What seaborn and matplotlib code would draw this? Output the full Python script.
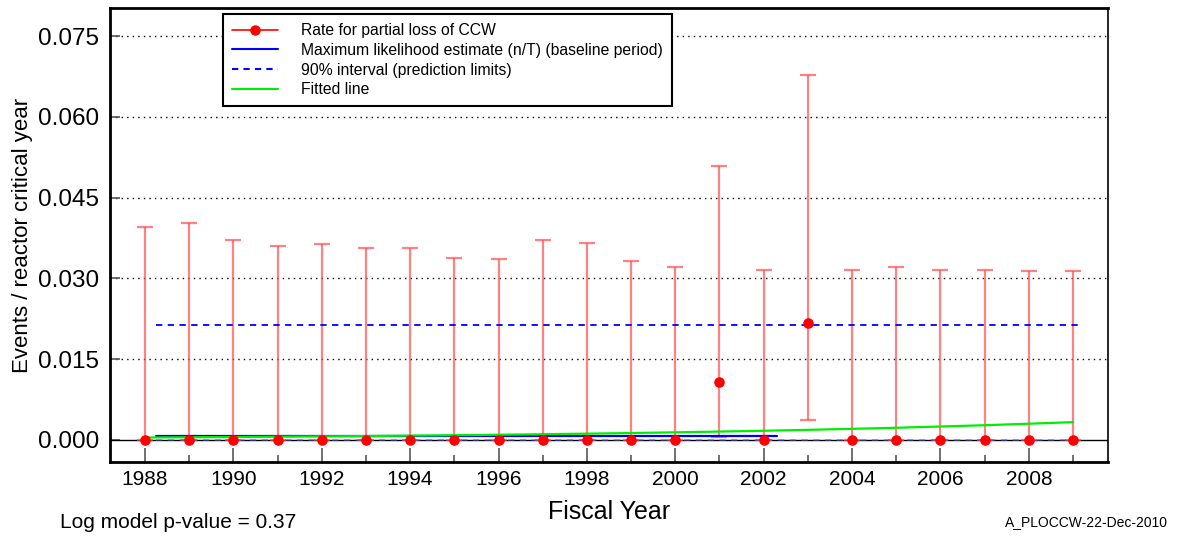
"""
Rate for partial loss of CCW by fiscal year, with prediction limits and
fitted log-model trend line.

Output:
    ``out.png``
"""

import matplotlib.pyplot as plt
import pandas as pd
import seaborn as sns

# Data
years = list(range(1988, 2010))
rate = [0.0, 0.0, 0.0, 0.0, 0.0, 0.0, 0.0, 0.0, 0.0, 0.0, 0.0,
        0.0, 0.0, 0.0108, 0.0, 0.0217, 0.0, 0.0, 0.0, 0.0, 0.0, 0.0]
upper = [0.0395, 0.0403, 0.0371, 0.0360, 0.0364, 0.0356, 0.0356, 0.0338,
         0.0336, 0.0371, 0.0366, 0.0332, 0.0321, 0.0509, 0.0316, 0.0678,
         0.0316, 0.0321, 0.0316, 0.0316, 0.0314, 0.0314]
lower = [0.0, 0.0, 0.0, 0.0, 0.0, 0.0, 0.0, 0.0, 0.0, 0.0, 0.0,
         0.0, 0.0, 0.0005, 0.0, 0.0037, 0.0, 0.0, 0.0, 0.0, 0.0, 0.0]
fitted = [0.00045, 0.00050, 0.00055, 0.00060, 0.00066, 0.00072, 0.00080,
          0.00088, 0.00096, 0.00106, 0.00116, 0.00128, 0.00141, 0.00155,
          0.00170, 0.00187, 0.00206, 0.00226, 0.00249, 0.00273, 0.00301,
          0.00330]

mle_span = [1988.25, 2002.3]
mle_value = 0.00074
interval_span = [1988.25, 2009.2]
interval_upper = 0.0213
interval_lower = 0.0

y_ticks = [0.0, 0.015, 0.030, 0.045, 0.060, 0.075]
x_major = list(range(1988, 2010, 2))
x_minor = list(range(1989, 2010, 2))

df = pd.DataFrame({"year": years, "rate": rate, "upper": upper,
                   "lower": lower, "fitted": fitted})

sns.set_style("white", {"xtick.bottom": True, "ytick.left": True})
plt.rcParams["font.family"] = ["Liberation Sans", "DejaVu Sans"]
plt.rcParams["text.color"] = "k"
plt.rcParams["axes.labelcolor"] = "k"
plt.rcParams["xtick.color"] = "k"
plt.rcParams["ytick.color"] = "k"
plt.rcParams["xtick.major.size"] = 10
plt.rcParams["xtick.minor.size"] = 5
plt.rcParams["ytick.major.size"] = 7

fig, ax = plt.subplots(figsize=(11.77, 5.37), dpi=100)
fig.subplots_adjust(left=110 / 1177, right=1108 / 1177,
                    bottom=1 - 462 / 537, top=1 - 8 / 537)

# Grid and zero line
for yt in y_ticks[1:]:
    ax.axhline(yt, color="k", ls=(0, (1, 3)), lw=1, zorder=0)
ax.axhline(0, color="k", lw=1, zorder=1)

# Error bars (red, semi-transparent)
ax.errorbar(df["year"], df["rate"],
            yerr=[df["rate"] - df["lower"], df["upper"] - df["rate"]],
            fmt="none", ecolor="#ff4d4d", alpha=0.7, elinewidth=1.6,
            capsize=6, capthick=1.6, zorder=2)

# Baseline MLE and prediction interval
ax.plot(mle_span, [mle_value] * 2, color="blue", lw=1.6, zorder=3)
ax.plot(interval_span, [interval_upper] * 2, color="blue", lw=1.3,
        ls=(0, (3.5, 3)), zorder=3)
ax.plot(interval_span, [interval_lower] * 2, color="#5a5adc", alpha=0.6,
        lw=1.3, ls=(0, (3.5, 3)), zorder=3)

# Fitted line
sns.lineplot(data=df, x="year", y="fitted", color="#00ee00", lw=1.6,
             ax=ax, zorder=3)

# Points
sns.scatterplot(data=df, x="year", y="rate", color="red", s=58,
                edgecolor="red", linewidth=0, ax=ax, zorder=4)

# Axes styling
ax.set_xlim(1987.21, 2009.79)
ax.set_ylim(-0.0041, 0.0802)
ax.set_yticks(y_ticks)
ax.set_yticklabels([f"{v:.3f}" for v in y_ticks], fontsize=17.5)
ax.set_xticks(x_major)
ax.set_xticks(x_minor, minor=True)
ax.set_xticklabels([str(y) for y in x_major], fontsize=15)
ax.tick_params(axis="x", which="major", bottom=True, direction="in",
               length=10, color="#666666", width=1.3, pad=6)
ax.tick_params(axis="x", which="minor", bottom=True, direction="in",
               length=5, color="#666666", width=1.3)
ax.tick_params(axis="y", which="major", left=True, direction="in",
               length=7, color="#555555", width=1.2, pad=8)

for side in ["left", "bottom", "top"]:
    ax.spines[side].set_linewidth(2)
ax.spines["right"].set_linewidth(1.2)
for sp in ax.spines.values():
    sp.set_color("k")

ax.set_xlabel("Fiscal Year", fontsize=18, labelpad=8)
ax.set_ylabel("Events / reactor critical year", fontsize=16, labelpad=3)

# Legend
handles = [
    plt.Line2D([], [], color="red", marker="o", markersize=6.5, lw=1.2),
    plt.Line2D([], [], color="blue", lw=1.5),
    plt.Line2D([], [], color="blue", lw=1.5, ls=(0, (3, 2.5))),
    plt.Line2D([], [], color="#00ee00", lw=1.5),
]
labels = ["Rate for partial loss of CCW",
          "Maximum likelihood estimate (n/T) (baseline period)",
          "90% interval (prediction limits)",
          "Fitted line"]
leg = ax.legend(handles, labels, loc="upper left",
                bbox_to_anchor=((223 - 110) / 998, 1 - 6 / 454),
                frameon=True, fancybox=False, fontsize=11.3,
                handlelength=2.9, handletextpad=1.45, borderpad=0.6,
                labelspacing=0.29, borderaxespad=0)
leg.get_frame().set_edgecolor("k")
leg.get_frame().set_linewidth(1.5)
leg.get_frame().set_alpha(1)

fig.text(60 / 1177, 1 - 522 / 537, "Log model p-value = 0.37",
         fontsize=15, va="center", ha="left")
fig.text(1168 / 1177, 1 - 522 / 537, "A_PLOCCW-22-Dec-2010",
         fontsize=10, va="center", ha="right")

fig.savefig("out.png", dpi=100)
